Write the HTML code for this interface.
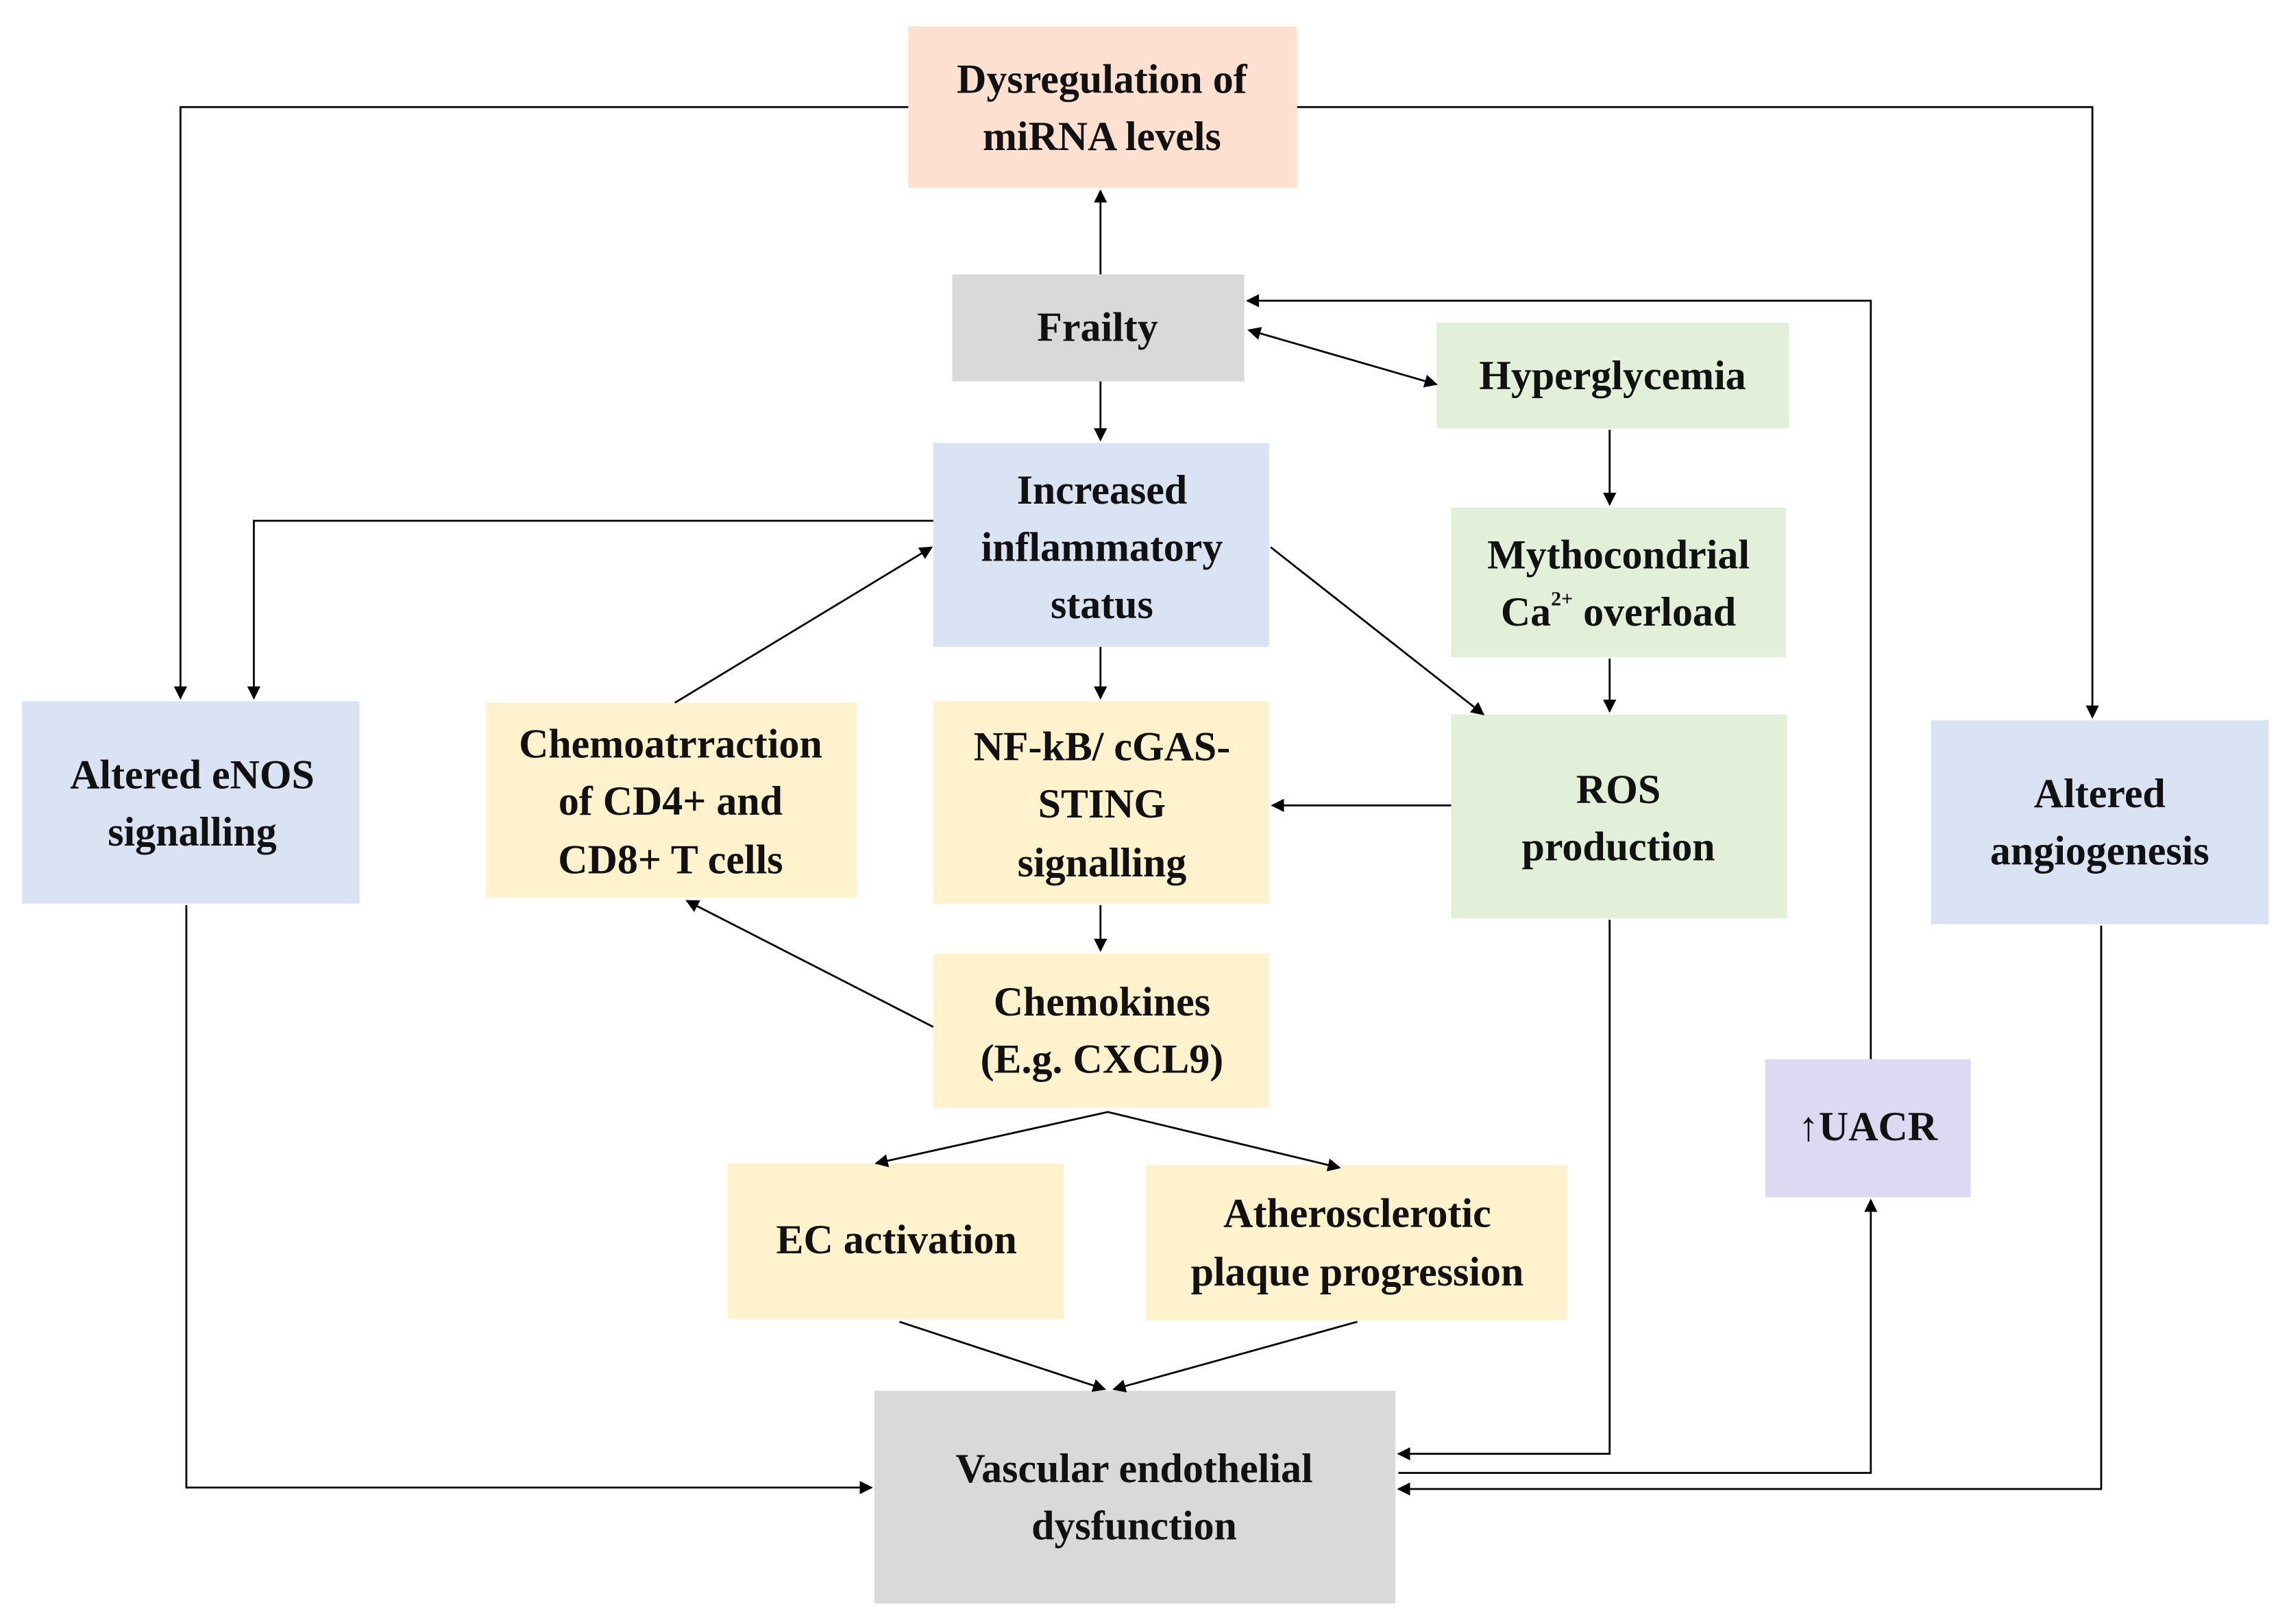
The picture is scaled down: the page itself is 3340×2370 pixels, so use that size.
<!DOCTYPE html>
<html><head><style>html,body{margin:0;padding:0;background:#fff}svg{display:block}</style></head><body>
<svg xmlns="http://www.w3.org/2000/svg" width="3340" height="2370" viewBox="0 0 1560 1107" preserveAspectRatio="none">
<defs><marker id="a" viewBox="0 0 10 10" refX="9" refY="5" markerWidth="9" markerHeight="9" markerUnits="userSpaceOnUse" orient="auto-start-reverse"><path d="M0,0 L10,5 L0,10 z" fill="#000"/></marker></defs>
<rect width="1560" height="1107" fill="#fff"/>
<g stroke="none">
<rect x="619" y="18" width="265" height="110" fill="#fde0d0"/>
<rect x="649" y="187" width="199" height="73" fill="#d9d9d9"/>
<rect x="979" y="220" width="240" height="72" fill="#e2f0d9"/>
<rect x="636" y="302" width="229" height="139" fill="#dae3f3"/>
<rect x="989" y="346" width="228" height="102" fill="#e2f0d9"/>
<rect x="15" y="478" width="230" height="138" fill="#dae3f3"/>
<rect x="331" y="479" width="253" height="133" fill="#fff2cc"/>
<rect x="636" y="478" width="229" height="138" fill="#fff2cc"/>
<rect x="989" y="487" width="229" height="139" fill="#e2f0d9"/>
<rect x="1316" y="491" width="230" height="139" fill="#dae3f3"/>
<rect x="636" y="650" width="229" height="105" fill="#fff2cc"/>
<rect x="496" y="793" width="229" height="106" fill="#fff2cc"/>
<rect x="781" y="794" width="287" height="106" fill="#fff2cc"/>
<rect x="1203" y="722" width="140" height="94" fill="#dcdaf3"/>
<rect x="596" y="948" width="355" height="145" fill="#d9d9d9"/>
</g>
<g fill="none" stroke="#000" stroke-width="1.3">
<polyline points="619,73 123,73 123,476" marker-end="url(#a)"/>
<polyline points="884,73 1426,73 1426,489" marker-end="url(#a)"/>
<line x1="750" y1="187" x2="750" y2="130" marker-end="url(#a)"/>
<line x1="750" y1="260" x2="750" y2="300" marker-end="url(#a)"/>
<line x1="851" y1="225" x2="979" y2="262" marker-start="url(#a)" marker-end="url(#a)"/>
<polyline points="1275,722 1275,205 850,205" marker-end="url(#a)"/>
<line x1="1097" y1="293" x2="1097" y2="344" marker-end="url(#a)"/>
<line x1="1097" y1="449" x2="1097" y2="485" marker-end="url(#a)"/>
<polyline points="636,355 173,355 173,476" marker-end="url(#a)"/>
<line x1="866" y1="373" x2="1011" y2="487" marker-end="url(#a)"/>
<line x1="750" y1="441" x2="750" y2="476" marker-end="url(#a)"/>
<line x1="460" y1="479" x2="635" y2="373" marker-end="url(#a)"/>
<line x1="989" y1="549" x2="867" y2="549" marker-end="url(#a)"/>
<line x1="750" y1="617" x2="750" y2="648" marker-end="url(#a)"/>
<line x1="636" y1="700" x2="468" y2="614" marker-end="url(#a)"/>
<polyline points="597,793 755,758 913,796" marker-start="url(#a)" marker-end="url(#a)"/>
<line x1="613" y1="901" x2="753" y2="947" marker-end="url(#a)"/>
<line x1="925" y1="901" x2="759" y2="947" marker-end="url(#a)"/>
<polyline points="127,617 127,1014 594,1014" marker-end="url(#a)"/>
<polyline points="1097,627 1097,991 953,991" marker-end="url(#a)"/>
<polyline points="953,1004 1275,1004 1275,818" marker-end="url(#a)"/>
<polyline points="1432,631 1432,1015 953,1015" marker-end="url(#a)"/>
</g>
<g font-family="'Liberation Serif',serif" font-weight="bold" font-size="28" text-anchor="middle" dominant-baseline="central" fill="#111">
<text x="751" y="54">Dysregulation of</text><text x="751" y="93">miRNA levels</text>
<text x="748" y="223">Frailty</text>
<text x="1099" y="256">Hyperglycemia</text>
<text x="751" y="334">Increased</text><text x="751" y="373">inflammatory</text><text x="751" y="412">status</text>
<text x="1103" y="378">Mythocondrial</text><text x="1103" y="417">Ca<tspan font-size="14" dy="-9">2+</tspan><tspan dy="9"> overload</tspan></text>
<text x="131" y="528">Altered eNOS</text><text x="131" y="567">signalling</text>
<text x="457" y="507">Chemoatrraction</text><text x="457" y="546">of CD4+ and</text><text x="457" y="586">CD8+ T cells</text>
<text x="751" y="509">NF-kB/ cGAS-</text><text x="751" y="548">STING</text><text x="751" y="588">signalling</text>
<text x="1103" y="538">ROS</text><text x="1103" y="577">production</text>
<text x="1431" y="541">Altered</text><text x="1431" y="580">angiogenesis</text>
<text x="751" y="683">Chemokines</text><text x="751" y="722">(E.g. CXCL9)</text>
<text x="611" y="845">EC activation</text>
<text x="925" y="827">Atherosclerotic</text><text x="925" y="867">plaque progression</text>
<text x="1273" y="768">↑UACR</text>
<text x="773" y="1001">Vascular endothelial</text><text x="773" y="1040">dysfunction</text>
</g>
</svg>
</body></html>
